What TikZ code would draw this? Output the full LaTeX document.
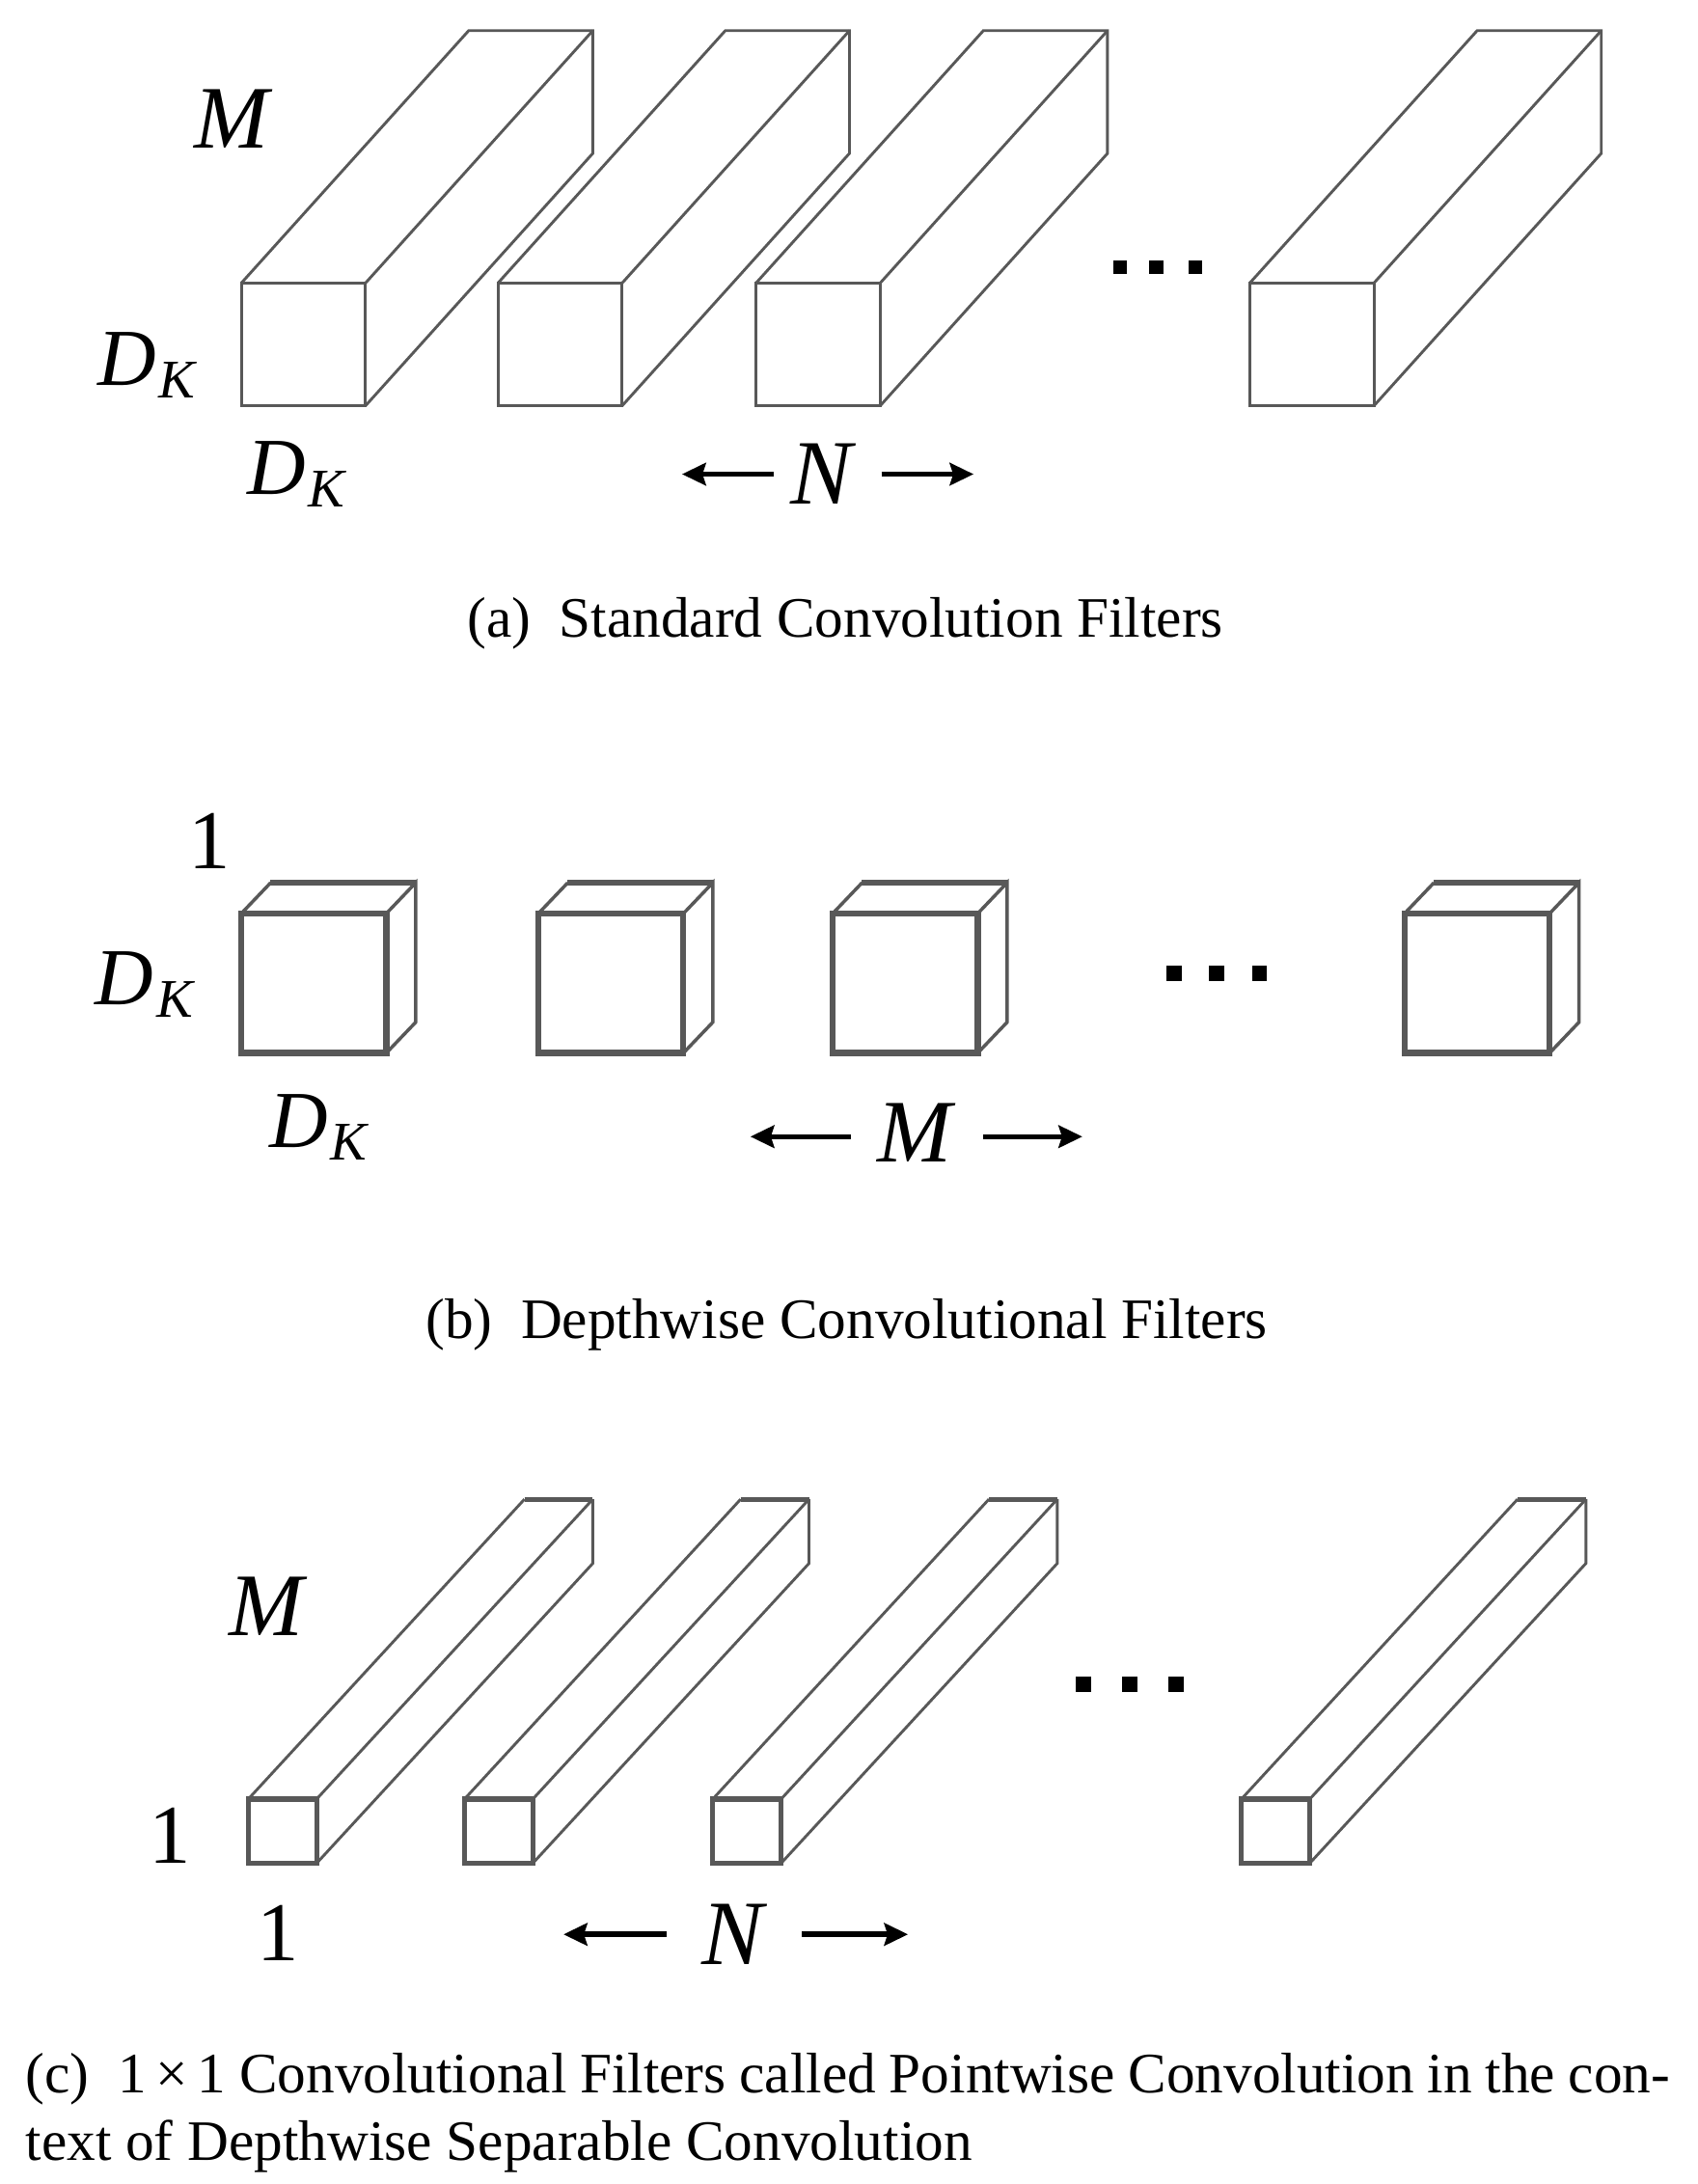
\documentclass[tikz,border=0pt]{standalone}
\usepackage{fontspec}
\setmainfont{Liberation Serif}
\usetikzlibrary{arrows.meta}
\definecolor{boxgray}{RGB}{88,88,88}
\newcommand{\lblDK}{\fontsize{29}{29}\selectfont\textit{D}\kern1pt\raisebox{-4.5pt}{\fontsize{19.5}{19.5}\selectfont\textit{K}}}
\tikzset{
  thinE/.style={draw=boxgray, line width=1.0pt, line join=miter},
  thickE/.style={draw=boxgray, line width=1.9pt, line join=miter},
  bigM/.style={font=\fontsize{32}{32}\selectfont\itshape, inner sep=0pt},
  bigN/.style={font=\fontsize{33}{33}\selectfont\itshape, inner sep=0pt},
  one/.style={font=\fontsize{30}{30}\selectfont, inner sep=0pt},
  dk/.style={inner sep=0pt},
  captext/.style={font=\fontsize{20.5}{24}\selectfont, inner sep=0pt},
  dimarrow/.style={-{Stealth[length=8.5pt,width=8pt,inset=1.2pt]}, line width=1.9pt, black},
  dotsq/.style={fill=black, draw=none}
}
\begin{document}
\begin{tikzpicture}[x=0.5pt,y=-0.5pt]
\useasboundingbox (0,0) rectangle (1217,1566);
% ---------- (a) standard convolution filters ----------
\foreach \x in {173,357,542,896}{
  \draw[thinE] (\x,203) -- ++(163,-181) -- ++(89,0) -- ++(0,88) -- ++(-163,181);
  \draw[thinE] (\x+89,203) -- ++(163,-181);
  \draw[thinE] (\x,203) rectangle ++(89,88);
}
\foreach \x in {803,829,857}{ \fill[dotsq] (\x-5,186.5) rectangle ++(10,10); }
\node[bigM] (aM) at (166,85) {M};
\node[dk] (aDK1) at (106,262) {\lblDK};
\node[dk] (aDK2) at (213,340) {\lblDK};
\node[bigN] (aN) at (589,340) {N};
\coordinate (aL1) at (555,340); \coordinate (aL2) at (489,340);
\coordinate (aR1) at (632,340); \coordinate (aR2) at (698,340);
\draw[dimarrow] (aL1) -- (aL2);
\draw[dimarrow] (aR1) -- (aR2);
\node[captext] (capa) at (606,447) {(a)\hspace{0.5em}Standard Convolution Filters};
% ---------- (b) depthwise convolutional filters ----------
\foreach \x in {173,386,597,1007}{
  \draw[thinE, line width=1.2pt] (\x+104,655) -- ++(21,-22) -- ++(0,100) -- ++(-21,22);
  \draw[thinE, line width=1.2pt] (\x,655) -- ++(21,-22);
  \draw[thickE, line width=2.1pt] (\x+21,633) -- ++(104,0);
  \draw[thickE, line width=2.1pt] (\x,655) rectangle ++(104,100);
}
\foreach \x in {842,872,903}{ \fill[dotsq] (\x-5.5,692.5) rectangle ++(11,11); }
\node[one] (b1) at (150,603) {1};
\node[dk] (bDK1) at (104,706) {\lblDK};
\node[dk] (bDK2) at (229,808) {\lblDK};
\node[bigM] (bM) at (656,812) {M};
\coordinate (bL1) at (610,815); \coordinate (bL2) at (538,815);
\coordinate (bR1) at (705,815); \coordinate (bR2) at (776,815);
\draw[dimarrow] (bL1) -- (bL2);
\draw[dimarrow] (bR1) -- (bR2);
\node[captext] (capb) at (607,950) {(b)\hspace{0.5em}Depthwise Convolutional Filters};
% ---------- (c) pointwise convolution ----------
\foreach \x in {178,333,511,890}{
  \draw[thinE] (\x,1290) -- ++(198,-215);
  \draw[thickE, line width=1.8pt] (\x+198,1075) -- ++(49,0);
  \draw[thinE] (\x+247,1075) -- ++(0,46) -- ++(-198,215);
  \draw[thinE] (\x+49,1290) -- ++(198,-215);
  \draw[thickE, line width=1.8pt] (\x,1290) rectangle ++(49,46);
}
\foreach \x in {777,810,843}{ \fill[dotsq] (\x-5.5,1202.5) rectangle ++(11,11); }
\node[bigM] (cM) at (191,1152) {M};
\node[one] (c1a) at (122,1316) {1};
\node[one] (c1b) at (199,1386) {1};
\node[bigN] (cN) at (525,1387) {N};
\coordinate (cL1) at (478,1387); \coordinate (cL2) at (404,1387);
\coordinate (cR1) at (575,1387); \coordinate (cR2) at (651,1387);
\draw[dimarrow] (cL1) -- (cL2);
\draw[dimarrow] (cR1) -- (cR2);
\node[captext, anchor=north west, text width=589.5pt, align=justify] (capc) at (18,1472)
  {(c)\hspace{0.5em}1\,×\,1 Convolutional Filters called Pointwise Convolution in the con-\linebreak text of Depthwise Separable Convolution};
\end{tikzpicture}
\end{document}
